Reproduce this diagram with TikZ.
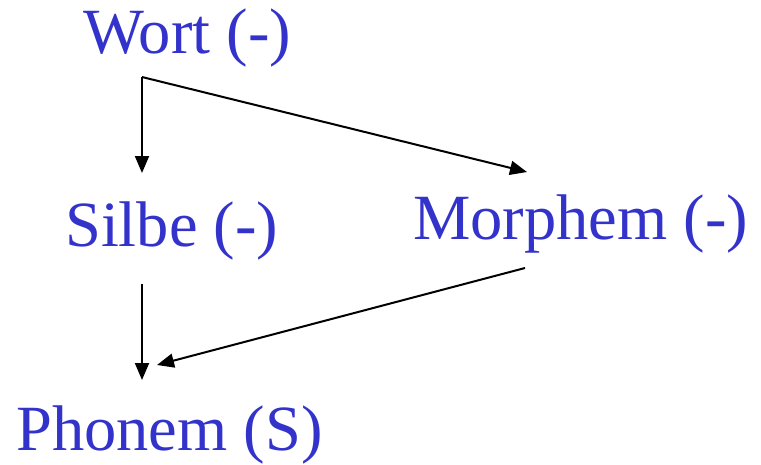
\documentclass[tikz,border=0pt]{standalone}
\usepackage{fontspec}
\setmainfont{Liberation Serif}
\usepackage{tikz}
\usetikzlibrary{arrows.meta, positioning}
\definecolor{myblue}{RGB}{51,51,204}
\tikzset{
  label/.style={anchor=base west, inner sep=0pt, text=myblue,
    font=\fontsize{64.5}{70}\selectfont},
  arrow/.style={-{Triangle[length=17pt, width=14pt]}, line width=2pt, color=black},
  line/.style={line width=2pt, color=black}
}
\begin{document}
\begin{tikzpicture}[x=1pt, y=-1pt]
  \useasboundingbox (0,0) rectangle (761,464);
  % levels
  \node[label] (wort) at (83,53) {Wort (-)};
  \node[label] (silbe) at (65,246) {Silbe (-)};
  \node[label] (morphem) at (413,239) {Morphem (-)};
  \node[label] (phonem) at (16,450) {Phonem (S)};
  % connector ends
  \coordinate (wfork) at (142,77);
  \coordinate (silbein) at (142,173);
  \coordinate (morphin) at (527,172);
  \coordinate (silbeout) at (142,284);
  \coordinate (phonin) at (142,380);
  \coordinate (morphout) at (525,268);
  \coordinate (phonside) at (157,365);
  \draw[arrow] (wfork) -- (silbein);
  \draw[arrow] (wfork) -- (morphin);
  \draw[arrow] (silbeout) -- (phonin);
  \draw[arrow] (morphout) -- (phonside);
\end{tikzpicture}
\end{document}
